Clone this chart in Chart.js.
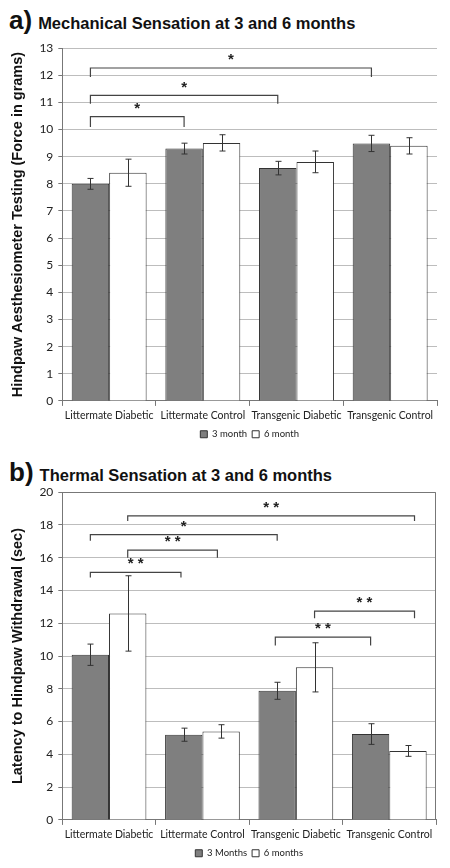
<!DOCTYPE html>
<html><head><meta charset="utf-8">
<script src="https://cdn.jsdelivr.net/npm/chart.js@4"></script>
<style>
body{margin:0;background:#fff;width:450px;height:868px;position:relative;overflow:hidden;font-family:"Liberation Sans",Arial,sans-serif;}
.ttl{position:absolute;left:9px;color:#111;font-weight:bold;white-space:nowrap;}
.ttl .lt{font-size:26px;margin-right:6px;}
.ttl .tx{font-size:16.5px;}
.box{position:absolute;left:0;width:450px;}
</style></head><body>
<div class="ttl" style="top:5px"><span class="lt">a)</span><span class="tx">Mechanical Sensation at 3 and 6 months</span></div>
<div class="box" style="top:36px;height:413px"><canvas id="ca" width="450" height="413"></canvas></div>
<div class="ttl" style="top:457px"><span class="lt">b)</span><span class="tx">Thermal Sensation at 3 and 6 months</span></div>
<div class="box" style="top:480px;height:388px"><canvas id="cb" width="450" height="388"></canvas></div>
<script>
const categories = ['Littermate Diabetic','Littermate Control','Transgenic Diabetic','Transgenic Control'];

const mech3 = [8.0, 9.3, 8.58, 9.49];
const mech3Err = [0.2, 0.2, 0.25, 0.3];
const mech6 = [8.41, 9.51, 8.81, 9.4];
const mech6Err = [0.5, 0.3, 0.4, 0.3];

const therm3 = [10.08, 5.2, 7.88, 5.24];
const therm3Err = [0.65, 0.4, 0.52, 0.63];
const therm6 = [12.6, 5.4, 9.31, 4.21];
const therm6Err = [2.3, 0.41, 1.5, 0.33];

// significance brackets: from/to in category units, top & end in value units
const mechBrackets = [
  {from:-0.2, to:0.8, top:10.48, end:10.1, label:'*'},
  {from:-0.2, to:1.8, top:11.26, end:10.95, label:'*'},
  {from:-0.2, to:2.8, top:12.27, end:11.94, label:'*'}
];
const thermBrackets = [
  {from:-0.2, to:0.77, top:15.11, end:14.8, label:'**'},
  {from:0.2, to:1.16, top:16.47, end:16.0, label:'**'},
  {from:-0.2, to:1.8, top:17.41, end:17.03, label:'*'},
  {from:0.2, to:3.27, top:18.56, end:18.24, label:'**'},
  {from:2.2, to:3.27, top:12.74, end:12.3, label:'**'},
  {from:1.78, to:2.8, top:11.15, end:10.64, label:'**'}
];

const TICK_FONT = {family:'Lato', size:10.5};

const errorBarPlugin = {
  id:'errbars',
  afterDatasetsDraw(chart){
    const ctx = chart.ctx, y = chart.scales.y;
    ctx.save();
    ctx.strokeStyle = '#333';
    ctx.lineWidth = 1;
    chart.data.datasets.forEach((ds, di) => {
      const meta = chart.getDatasetMeta(di);
      meta.data.forEach((bar, i) => {
        const v = ds.data[i], e = ds.err[i];
        const x = Math.round(bar.x) + 0.5;
        const y1 = y.getPixelForValue(v + e), y2 = y.getPixelForValue(v - e);
        ctx.beginPath();
        ctx.moveTo(x, y1); ctx.lineTo(x, y2);
        ctx.moveTo(x - 3, y1); ctx.lineTo(x + 3, y1);
        ctx.moveTo(x - 3, y2); ctx.lineTo(x + 3, y2);
        ctx.stroke();
      });
    });
    ctx.restore();
  }
};

const bracketPlugin = {
  id:'brackets',
  afterDatasetsDraw(chart, args, opts){
    const ctx = chart.ctx, xs = chart.scales.x, ys = chart.scales.y;
    ctx.save();
    ctx.strokeStyle = '#444';
    ctx.fillStyle = '#222';
    ctx.lineWidth = 1.2;
    ctx.font = 'bold 15px "Liberation Sans", Arial';
    ctx.textAlign = 'center';
    ctx.textBaseline = 'middle';
    (opts.items || []).forEach(b => {
      const x1 = xs.getPixelForValue(b.from), x2 = xs.getPixelForValue(b.to);
      const yt = ys.getPixelForValue(b.top), ye = ys.getPixelForValue(b.end);
      ctx.beginPath();
      ctx.moveTo(x1, ye); ctx.lineTo(x1, yt); ctx.lineTo(x2, yt); ctx.lineTo(x2, ye);
      ctx.stroke();
      const txt = b.label.split('').join(' ');
      ctx.fillText(b.label.length > 1 ? txt : b.label, (x1 + x2) / 2, yt - 8);
    });
    ctx.restore();
  }
};

const borderPlugin = {
  id:'frame',
  afterDraw(chart, args, opts){
    if (!opts.show) return;
    const a = chart.chartArea, ctx = chart.ctx;
    ctx.save();
    ctx.strokeStyle = '#777';
    ctx.lineWidth = 1;
    ctx.beginPath();
    ctx.moveTo(Math.round(a.left)+0.5, Math.round(a.top)+0.5);
    ctx.lineTo(Math.round(a.right)-0.5, Math.round(a.top)+0.5);
    ctx.lineTo(Math.round(a.right)-0.5, Math.round(a.bottom));
    ctx.stroke();
    ctx.restore();
  }
};

function makeChart(id, s3, e3, s6, e6, l3, l6, ymax, step, ytitle, brackets, frame, pad){
  return new Chart(document.getElementById(id), {
    type:'bar',
    data:{
      labels:categories,
      datasets:[
        {label:l3, data:s3, err:e3, backgroundColor:'#7f7f7f', borderColor:'#333', borderWidth:1, borderSkipped:'bottom'},
        {label:l6, data:s6, err:e6, backgroundColor:'#ffffff', borderColor:'#333', borderWidth:1, borderSkipped:'bottom'}
      ]
    },
    options:{
      responsive:false, animation:false, devicePixelRatio:1,
      layout:{padding:pad},
      datasets:{bar:{categoryPercentage:0.8, barPercentage:1.0}},
      scales:{
        x:{
          grid:{display:true, drawOnChartArea:false, drawTicks:true, tickLength:5, color:'#777', offset:true},
          border:{display:true, color:'#777'},
          ticks:{font:TICK_FONT, color:'#222', maxRotation:0, autoSkip:false, padding:3}
        },
        y:{
          min:0, max:ymax,
          grid:{color:'#bdbdbd', drawTicks:true, tickLength:4, tickColor:'#777'},
          border:{display:true, color:'#777'},
          ticks:{stepSize:step, font:{family:'Lato', size:12}, color:'#222', padding:5},
          title:{display:true, text:ytitle, font:{family:'"Liberation Sans", Arial', size:14.5, weight:'bold'}, color:'#111', padding:{top:0,bottom:8}}
        }
      },
      plugins:{
        legend:{position:'bottom', fullSize:false,
          labels:{boxWidth:7, boxHeight:7, font:{family:'Lato', size:9.5}, color:'#222', padding:5, useBorderRadius:false}},
        tooltip:{enabled:false},
        brackets:{items:brackets},
        frame:{show:frame}
      }
    },
    plugins:[errorBarPlugin, bracketPlugin, borderPlugin]
  });
}

makeChart('ca', mech3, mech3Err, mech6, mech6Err, '3 month', '6 month', 13, 1,
  'Hindpaw Aesthesiometer Testing (Force in grams)', mechBrackets, false, {top:4, right:13, left:9, bottom:0});
makeChart('cb', therm3, therm3Err, therm6, therm6Err, '3 Months', '6 months', 20, 2,
  'Latency to Hindpaw Withdrawal (sec)', thermBrackets, true, {top:4, right:14, left:9, bottom:0});
</script>
</body></html>
